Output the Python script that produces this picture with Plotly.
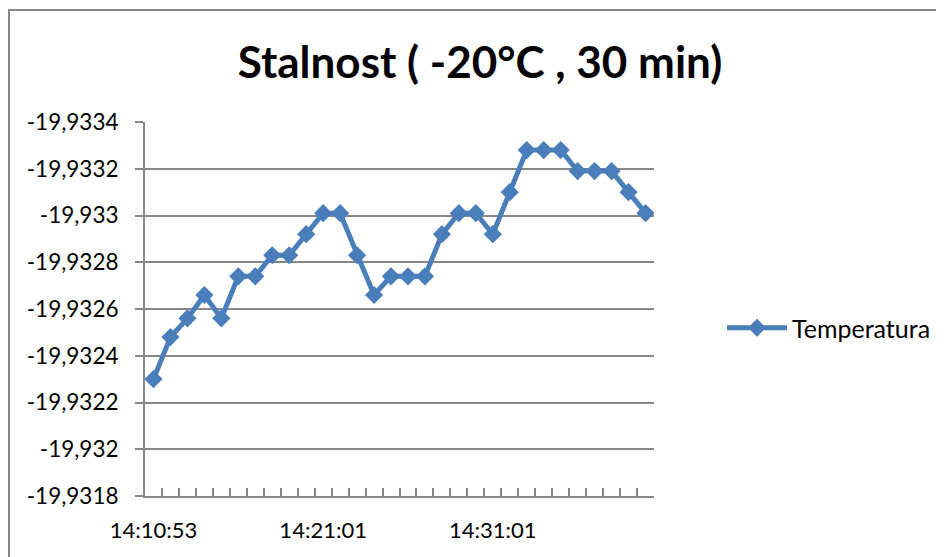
import plotly.graph_objects as go

times = ["14:10:53", "14:11:54", "14:12:55", "14:13:56", "14:14:57",
         "14:15:58", "14:16:59", "14:18:00", "14:19:00", "14:20:01",
         "14:21:01", "14:22:01", "14:23:01", "14:24:01", "14:25:01",
         "14:26:01", "14:27:01", "14:28:01", "14:29:01", "14:30:01",
         "14:31:01", "14:32:01", "14:33:01", "14:34:01", "14:35:01",
         "14:36:01", "14:37:01", "14:38:01", "14:39:01", "14:40:01"]

temperatura = [-19.93230, -19.93248, -19.93256, -19.93266, -19.93256,
               -19.93274, -19.93274, -19.93283, -19.93283, -19.93292,
               -19.93301, -19.93301, -19.93283, -19.93266, -19.93274,
               -19.93274, -19.93274, -19.93292, -19.93301, -19.93301,
               -19.93292, -19.93310, -19.93328, -19.93328, -19.93328,
               -19.93319, -19.93319, -19.93319, -19.93310, -19.93301]

y_ticks = [-19.9334, -19.9332, -19.9330, -19.9328, -19.9326,
           -19.9324, -19.9322, -19.9320, -19.9318]
y_tick_labels = ["-19,9334", "-19,9332", "-19,933", "-19,9328", "-19,9326",
                 "-19,9324", "-19,9322", "-19,932", "-19,9318"]

blue = "#4A7EBB"
grid = "#878787"
FONT = "Lato"

fig = go.Figure()
fig.add_trace(go.Scatter(
    x=times, y=temperatura, name="Temperatura", mode="lines+markers",
    line=dict(color=blue, width=5),
    marker=dict(symbol="diamond", size=14, color=blue),
))

OFF = 8  # page body margin
W, H = 944 - OFF, 557 - OFF
L, T = 145 - OFF, 122 - OFF
R = W - (654 - OFF)
B = H - (496 - OFF)
pw, ph = W - L - R, H - T - B

def px_x(p):
    return (p - OFF - L) / pw

def px_y(p):
    return (H - B - (p - OFF)) / ph

fig.update_layout(
    width=W, height=H,
    margin=dict(l=L, r=R, t=T, b=B, autoexpand=False),
    paper_bgcolor="white", plot_bgcolor="white",
    font=dict(family=FONT, color="black"),
    title=dict(text="<b>Stalnost ( -20°C , 30 min)</b>",
               font=dict(family=FONT, size=44, color="black"),
               x=(480 - OFF) / W, xanchor="center", xref="container",
               y=1 - (63 - OFF) / H, yanchor="middle", yref="container"),
    showlegend=True,
    legend=dict(x=px_x(722), xanchor="left", y=px_y(328), yanchor="middle",
                font=dict(family=FONT, size=25, color="black"),
                itemwidth=60, bgcolor="rgba(0,0,0,0)"),
    xaxis=dict(type="category", range=[-0.5, len(times) - 0.5],
               tickvals=times, tickangle=0, automargin=False,
               ticktext=[t if i % 10 == 0 else "" for i, t in enumerate(times)],
               tickson="boundaries", ticks="inside", ticklen=8, tickwidth=2,
               tickcolor=grid, showline=True, linecolor=grid, linewidth=2,
               showgrid=False, zeroline=False, ticklabelstandoff=14,
               tickfont=dict(family=FONT, size=22, color="black")),
    yaxis=dict(range=[-19.9318, -19.9334], tickvals=y_ticks, automargin=False,
               ticktext=y_tick_labels, ticks="outside", ticklen=8,
               tickwidth=2, tickcolor=grid, showline=True, linecolor=grid,
               linewidth=2, showgrid=True, gridcolor=grid, gridwidth=1.5,
               zeroline=False, ticklabelstandoff=12,
               tickfont=dict(family=FONT, size=22.5, color="black")),
    shapes=[dict(type="rect", xref="paper", yref="paper",
                 x0=px_x(9), x1=px_x(1000), y0=px_y(10), y1=px_y(620),
                 line=dict(color=grid, width=2), fillcolor="rgba(0,0,0,0)",
                 layer="below")],
)

fig.write_html("out.html")
